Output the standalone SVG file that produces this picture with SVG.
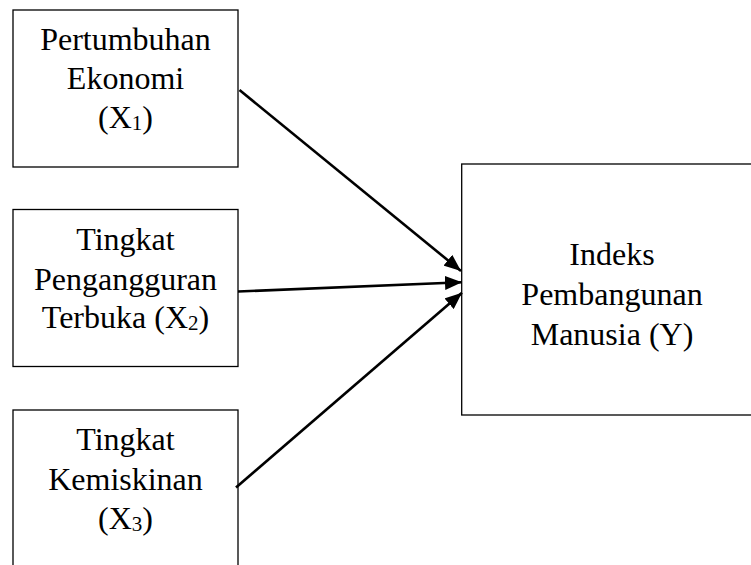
<svg xmlns="http://www.w3.org/2000/svg" width="751" height="565" viewBox="0 0 751 565">
<defs>
<style>
.box{fill:#fff;stroke:#000;stroke-width:1.3}
.t{font-family:"Liberation Serif","Times New Roman",serif;font-size:32px;fill:#000;text-anchor:middle}
.sub{font-size:21px}
.c{stroke:#000;stroke-width:2.6;fill:none;marker-end:url(#ah)}
</style>
<marker id="ah" markerUnits="userSpaceOnUse" markerWidth="18" markerHeight="14" refX="17" refY="7" orient="auto">
<path d="M0,0 L17,7 L0,14 z" fill="#000"/>
</marker>
</defs>
<rect width="751" height="565" fill="#fff"/>
<g id="x1">
<rect class="box" x="13" y="10" width="225" height="157"/>
<text class="t" x="125.5" y="50">Pertumbuhan</text>
<text class="t" x="125.5" y="89">Ekonomi</text>
<text class="t" x="125.5" y="128">(X<tspan class="sub" dy="2">1</tspan><tspan dy="-2">)</tspan></text>
</g>
<g id="x2">
<rect class="box" x="13" y="209.5" width="225" height="157"/>
<text class="t" x="125.5" y="250">Tingkat</text>
<text class="t" x="125.5" y="290">Pengangguran</text>
<text class="t" x="125.5" y="328">Terbuka (X<tspan class="sub" dy="2">2</tspan><tspan dy="-2">)</tspan></text>
</g>
<g id="x3">
<rect class="box" x="13" y="410" width="225" height="170"/>
<text class="t" x="125.5" y="450">Tingkat</text>
<text class="t" x="125.5" y="490">Kemiskinan</text>
<text class="t" x="125.5" y="529">(X<tspan class="sub" dy="2">3</tspan><tspan dy="-2">)</tspan></text>
</g>
<g id="y">
<rect class="box" x="461.7" y="164" width="300" height="251"/>
<text class="t" x="612" y="265">Indeks</text>
<text class="t" x="612" y="305">Pembangunan</text>
<text class="t" x="612" y="345">Manusia (Y)</text>
</g>
<g id="connectors">
<line class="c" x1="239.5" y1="90" x2="461" y2="271"/>
<line class="c" x1="238" y1="291.5" x2="462" y2="282.3"/>
<line class="c" x1="236" y1="487.5" x2="462" y2="292.7"/>
</g>
</svg>
